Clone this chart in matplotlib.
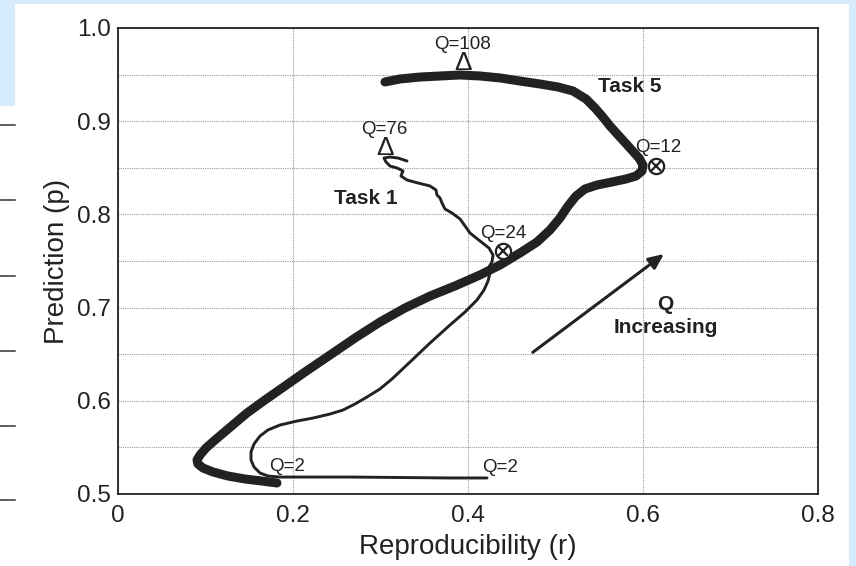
import matplotlib
matplotlib.use("Agg")
import matplotlib.pyplot as plt
from matplotlib.patches import Rectangle
from matplotlib.lines import Line2D

plt.rcParams['font.family'] = ['Liberation Sans', 'DejaVu Sans']

# Task 5 trajectory (thick), ordered from Q=2 upward
task5_r = [0.1817, 0.1646, 0.1451, 0.1257, 0.1086, 0.0971, 0.0914, 0.0903, 0.0937,
           0.1006, 0.1109, 0.1257, 0.1474, 0.1680, 0.1909, 0.2137, 0.2423, 0.2709,
           0.2994, 0.3280, 0.3566, 0.3851, 0.4137, 0.4366, 0.4594, 0.4789, 0.4937,
           0.5051, 0.5143, 0.5234, 0.5337, 0.5474, 0.5646, 0.5806, 0.5920, 0.5989,
           0.6000, 0.5954, 0.5851, 0.5737, 0.5623, 0.5531, 0.5451, 0.5349, 0.5200,
           0.5029, 0.4823, 0.4594, 0.4366, 0.4137, 0.3909, 0.3680, 0.3451, 0.3223,
           0.3051]
task5_p = [0.5118, 0.5139, 0.5161, 0.5193, 0.5236, 0.5279, 0.5322, 0.5365, 0.5418,
           0.5494, 0.5579, 0.5697, 0.5869, 0.6009, 0.6159, 0.6309, 0.6491, 0.6674,
           0.6845, 0.6996, 0.7124, 0.7232, 0.7350, 0.7457, 0.7586, 0.7704, 0.7833,
           0.7961, 0.8090, 0.8197, 0.8273, 0.8315, 0.8348, 0.8380, 0.8412, 0.8466,
           0.8530, 0.8605, 0.8712, 0.8830, 0.8948, 0.9056, 0.9142, 0.9238, 0.9324,
           0.9367, 0.9399, 0.9431, 0.9464, 0.9485, 0.9496, 0.9485, 0.9474, 0.9453,
           0.9421]

# Task 1 trajectory (thin), ordered from Q=2 upward
task1_r = [0.4217, 0.3794, 0.3223, 0.2651, 0.2080, 0.1851, 0.1714, 0.1623, 0.1554,
           0.1520, 0.1520, 0.1554, 0.1623, 0.1714, 0.1851, 0.2046, 0.2229, 0.2423,
           0.2571, 0.2709, 0.2846, 0.2994, 0.3131, 0.3337, 0.3566, 0.3794, 0.3966,
           0.4103, 0.4183, 0.4229, 0.4251, 0.4240, 0.4274, 0.4286, 0.4240, 0.4137,
           0.4023, 0.3966, 0.3909, 0.3817, 0.3737, 0.3703, 0.3680, 0.3646, 0.3634,
           0.3566, 0.3429, 0.3303, 0.3234, 0.3257, 0.3189, 0.3109, 0.3063, 0.3040,
           0.3109, 0.3200, 0.3303]
task1_p = [0.5172, 0.5172, 0.5177, 0.5182, 0.5182, 0.5182, 0.5193, 0.5225, 0.5290,
           0.5365, 0.5451, 0.5536, 0.5622, 0.5687, 0.5740, 0.5783, 0.5815, 0.5858,
           0.5901, 0.5966, 0.6041, 0.6127, 0.6234, 0.6416, 0.6620, 0.6813, 0.6953,
           0.7082, 0.7189, 0.7285, 0.7371, 0.7436, 0.7489, 0.7564, 0.7639, 0.7715,
           0.7800, 0.7876, 0.7951, 0.8015, 0.8058, 0.8122, 0.8176, 0.8208, 0.8262,
           0.8305, 0.8337, 0.8369, 0.8412, 0.8466, 0.8498, 0.8519, 0.8562, 0.8605,
           0.8616, 0.8605, 0.8573]

# Q annotations: label, text position, marker position, marker kind
q_labels = ["Q=108", "Q=76", "Q=24", "Q=12"]
q_text_pos = [(0.394, 0.982), (0.304, 0.891), (0.440, 0.779), (0.617, 0.872)]
q_mark_pos = [(0.394, 0.962), (0.305, 0.871), (0.440, 0.761), (0.615, 0.852)]
q_mark_kind = ["delta", "delta", "otimes", "otimes"]

start_labels = ["Q=2", "Q=2"]
start_pos = [(0.193, 0.530), (0.437, 0.528)]

x_ticks = [0, 0.2, 0.4, 0.6, 0.8]
x_ticklabels = ["0", "0.2", "0.4", "0.6", "0.8"]
y_ticks = [0.5, 0.6, 0.7, 0.8, 0.9, 1.0]
y_ticklabels = ["0.5", "0.6", "0.7", "0.8", "0.9", "1.0"]
y_minor = [0.55, 0.65, 0.75, 0.85, 0.95]

W, H = 856, 566
fig = plt.figure(figsize=(W / 100, H / 100), dpi=100)
fig.patch.set_facecolor('#d6ebfc')

# white page areas, kept behind the axes
fig.patches.append(Rectangle((15 / W, 0), (849 - 15) / W, 1 - 4 / H,
                             transform=fig.transFigure, facecolor='white',
                             edgecolor='none', zorder=-10))
fig.patches.append(Rectangle((0, 0), 16 / W, 1 - 106 / H,
                             transform=fig.transFigure, facecolor='white',
                             edgecolor='none', zorder=-10))
# short rule marks at the page edge
for yy in [125, 200, 276, 351, 426, 500]:
    fig.lines.append(Line2D([0, 15 / W], [1 - yy / H, 1 - yy / H],
                            transform=fig.transFigure, color='#333333', lw=1.1,
                            zorder=-5))

ax = fig.add_axes([118 / W, 1 - 494 / H, 700 / W, 466 / H])
ax.set_zorder(1)
ax.set_facecolor('white')
ax.set_xlim(0, 0.8)
ax.set_ylim(0.5, 1.0)

ax.set_xticks(x_ticks)
ax.set_xticklabels(x_ticklabels)
ax.set_yticks(y_ticks)
ax.set_yticklabels(y_ticklabels)
ax.set_yticks(y_minor, minor=True)
ax.tick_params(which='both', length=0, labelsize=17.5, colors='#222222')
ax.tick_params(axis='x', pad=8)
ax.tick_params(axis='y', pad=5)

ax.grid(True, which='both', color='#9a9a9a', linestyle=(0, (1, 1)), linewidth=0.8)
ax.set_axisbelow(True)
for s in ax.spines.values():
    s.set_color('#222222')
    s.set_linewidth(1.3)

ax.set_xlabel("Reproducibility (r)", fontsize=20, color='#222222', labelpad=5)
ax.set_ylabel("Prediction (p)", fontsize=20, color='#222222', labelpad=5)

ax.plot(task5_r, task5_p, color='#222222', lw=6.5, solid_capstyle='round',
        solid_joinstyle='round', zorder=3)
ax.plot(task1_r, task1_p, color='#222222', lw=2.1, solid_capstyle='round',
        solid_joinstyle='round', zorder=3)

for lab, tp, mp, kind in zip(q_labels, q_text_pos, q_mark_pos, q_mark_kind):
    ax.text(tp[0], tp[1], lab, fontsize=13.5, ha='center', va='center',
            color='#222222', zorder=4)
    if kind == "delta":
        ax.text(mp[0], mp[1], "Δ", fontsize=19, ha='center', va='center',
                color='#222222', zorder=4)
    else:
        ax.plot(mp[0], mp[1], marker='o', ms=11, mfc='white', mec='#222222',
                mew=1.6, zorder=4)
        ax.plot(mp[0], mp[1], marker='x', ms=7, mec='#222222', mew=1.6, zorder=5)

for lab, pos in zip(start_labels, start_pos):
    ax.text(pos[0], pos[1], lab, fontsize=13.5, ha='center', va='center',
            color='#222222', zorder=4)

ax.text(0.585, 0.937, "Task 5", fontsize=15, fontweight='bold', ha='center',
        va='center', color='#222222')
ax.text(0.283, 0.817, "Task 1", fontsize=15, fontweight='bold', ha='center',
        va='center', color='#222222')
ax.text(0.626, 0.703, "Q", fontsize=15, fontweight='bold', ha='center',
        va='center', color='#222222')
ax.text(0.626, 0.679, "Increasing", fontsize=15, fontweight='bold', ha='center',
        va='center', color='#222222')

ax.annotate("", xy=(0.624, 0.7575), xytext=(0.474, 0.652),
            arrowprops=dict(arrowstyle='-|>,head_length=0.9,head_width=0.4',
                            color='#222222', lw=2.2, shrinkA=0, shrinkB=0))

fig.savefig("out.png", dpi=100, facecolor=fig.get_facecolor())
